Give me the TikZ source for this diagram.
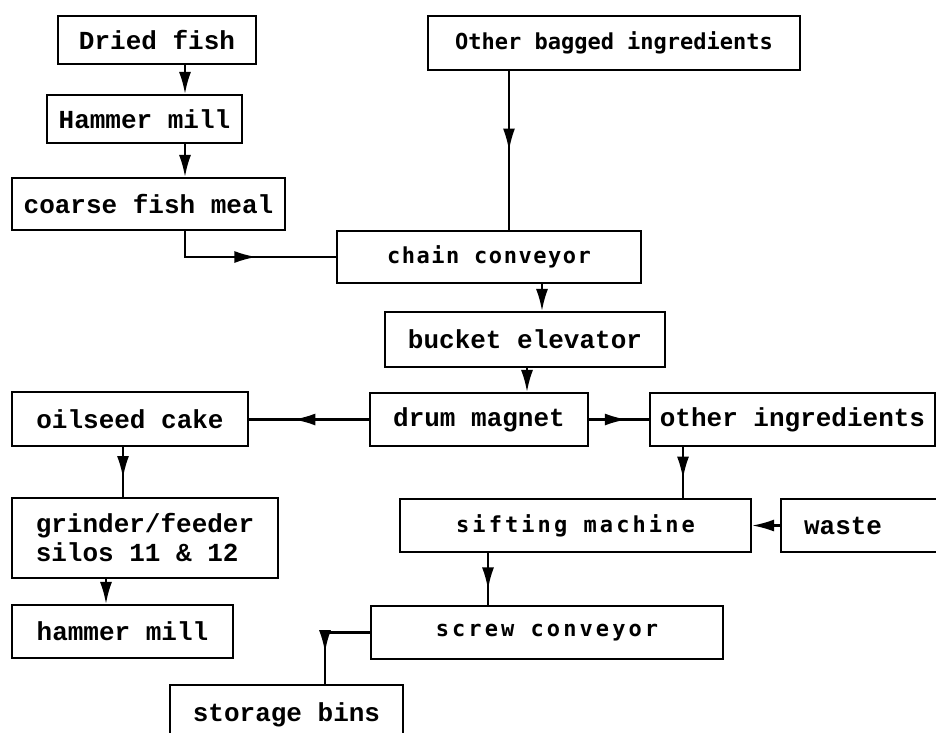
\documentclass[tikz,border=0pt]{standalone}
\usepackage{fontspec}
\newfontfamily\heavytype{Liberation Mono Bold}
\newfontfamily\lighttype{DejaVu Sans Mono Bold}
\newfontfamily\widetype[LetterSpace=14]{DejaVu Sans Mono Bold}
\newfontfamily\midtype[LetterSpace=7]{DejaVu Sans Mono Bold}
\usetikzlibrary{arrows.meta,decorations.markings}
\begin{document}
\begin{tikzpicture}[x=1pt,y=-1pt,
  line width=2.1pt,
  box/.style={draw, line width=2.1pt, inner sep=0pt, align=center,
    font=\heavytype\fontsize{26}{29}\selectfont},
  lightbox/.style={box, font=\lighttype\fontsize{22}{26}\selectfont},
  tipend/.style={-{Latex[length=22pt,width=12pt]}},
  midtip/.style={postaction={decorate},
    decoration={markings, mark=at position #1 with {\arrow{Latex[length=22pt,width=12pt]}}}}]
\useasboundingbox (0,0) rectangle (936,732);

% process boxes
\node[box, minimum width=198, minimum height=48] (dried) at (157,40) {Dried fish};
\node[box, minimum width=195, minimum height=48] (hmill) at (144.5,119) {Hammer mill};
\node[box, minimum width=273, minimum height=52] (coarse) at (148.5,204) {coarse fish meal};
\node[lightbox, minimum width=372, minimum height=54] (bagged) at (614,43) {Other bagged ingredients};
\node[lightbox, font=\midtype\fontsize{22}{26}\selectfont, minimum width=304, minimum height=52] (chain) at (489,257) {chain conveyor};
\node[box, minimum width=280, minimum height=55] (bucket) at (525,339.5) {bucket elevator};
\node[box, minimum width=218, minimum height=53] (drum) at (479,419.5) {drum magnet};
\node[box, minimum width=236, minimum height=54] (oilseed) at (130,419) {oilseed cake};
\node[box, minimum width=285, minimum height=53] (other) at (792.5,419.5) {other ingredients};
\node[box, minimum width=266, minimum height=80, align=left] (grinder) at (145,538) {grinder/feeder\\silos 11 \& 12};
\node[box, minimum width=221, minimum height=53] (hmill2) at (122.5,631.5) {hammer mill};
\node[lightbox, font=\widetype\fontsize{22}{26}\selectfont, minimum width=351, minimum height=53] (sift) at (575.5,525.5) {sifting machine};
\node[box, anchor=west, text width=119, inner xsep=23, minimum height=53, align=left] (waste) at (780,525.5) {waste};
\node[lightbox, font=\widetype\fontsize{22}{26}\selectfont, minimum width=352, minimum height=53] (screw) at (547,632.5) {screw conveyor};
\node[box, minimum width=233, minimum height=60] (storage) at (286.5,715) {storage bins};

% x positions of the vertical connectors
\coordinate (xa) at (185,0);
\coordinate (xb) at (509,0);
\coordinate (xc) at (542,0);
\coordinate (xd) at (527,0);
\coordinate (xe) at (123,0);
\coordinate (xf) at (106,0);
\coordinate (xg) at (683,0);
\coordinate (xh) at (488,0);
\coordinate (xi) at (325,0);

% connectors
\draw[tipend] (dried.south -| xa) -- (hmill.north -| xa);
\draw[tipend] (hmill.south -| xa) -- (coarse.north -| xa);
\draw[midtip=0.55] (coarse.south -| xa) |- (chain.west);
\draw[midtip=0.5] (bagged.south -| xb) -- (chain.north -| xb);
\draw[tipend] (chain.south -| xc) -- (bucket.north -| xc);
\draw[tipend] (bucket.south -| xd) -- (drum.north -| xd);
\draw[midtip=0.63] (drum.west) -- (oilseed.east |- drum.west);
\draw[midtip=0.63] (drum.east) -- (other.west |- drum.east);
\draw[midtip=0.62] (oilseed.south -| xe) -- (grinder.north -| xe);
\draw[tipend] (grinder.south -| xf) -- (hmill2.north -| xf);
\draw[midtip=0.62] (other.south -| xg) -- (sift.north -| xg);
\draw[tipend] (waste.west) -- (sift.east |- waste.west);
\draw[midtip=0.7] (sift.south -| xh) -- (screw.north -| xh);
\draw[midtip=0.67] (screw.west) -| (storage.north -| xi);
\end{tikzpicture}
\end{document}
